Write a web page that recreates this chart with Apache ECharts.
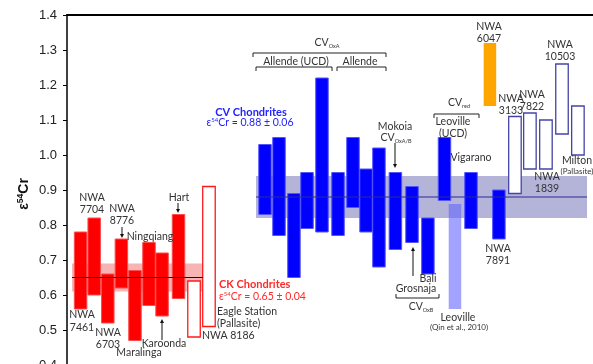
<!DOCTYPE html>
<html><head><meta charset="utf-8">
<script src="https://cdn.jsdelivr.net/npm/echarts@6/dist/echarts.min.js"></script>
<style>html,body{margin:0;padding:0;background:#fff}#c{width:593px;height:364px}</style>
</head><body><div id="c"></div>
<script>
// ---- data ----
const yTicks = [0.4,0.5,0.6,0.7,0.8,0.9,1.0,1.1,1.2,1.3,1.4];
// CK chondrites (filled red)
const ckNames = ['NWA 7461','NWA 7704','NWA 6703','NWA 8776','Maralinga','Ningqiang','Karoonda','Hart'];
const ckPos   = [1, 2, 3, 4, 5, 6.03, 6.99, 8.2];
const ckLow   = [0.56,0.60,0.52,0.62,0.47,0.57,0.54,0.59];
const ckHigh  = [0.78,0.82,0.66,0.76,0.67,0.75,0.72,0.83];
// red outlined (NWA 8186, Eagle Station pallasite)
const redOpenNames = ['NWA 8186','Eagle Station'];
const redOpenPos   = [9.34, 10.44];
const redOpenLow   = [0.48, 0.51];
const redOpenHigh  = [0.64, 0.91];
// CV chondrites (filled blue)
const cvNames = ['Allende UCD 1','Allende UCD 2','Allende UCD 3','Allende UCD 4','Allende UCD 5',
                 'Allende 1','Allende 2','Allende 3','Allende 4','Mokoia','Grosnaja','Bali',
                 'Leoville (UCD)','Vigarano','NWA 7891'];
const cvPos   = [14.56,15.59,16.69,17.65,18.75,19.93,21.03,21.99,22.94,24.15,25.37,26.54,27.76,29.71,31.76];
const cvLow   = [0.83,0.77,0.65,0.79,0.78,0.77,0.85,0.78,0.68,0.73,0.75,0.66,0.87,0.79,0.76];
const cvHigh  = [1.03,1.05,0.89,0.95,1.22,0.95,1.05,0.96,1.02,0.95,0.91,0.82,1.05,0.95,0.90];
// Leoville (Qin et al., 2010)
const qinPos = [28.53], qinLow = [0.56], qinHigh = [0.86];
// NWA 6047 (orange)
const orPos = [31.10], orLow = [1.14], orHigh = [1.32];
// blue outlined
const blueOpenNames = ['NWA 3133','NWA 7822','NWA 1839','NWA 10503','Milton'];
const blueOpenPos   = [32.94, 34.04, 35.22, 36.40, 37.57];
const blueOpenLow   = [0.89, 0.96, 0.96, 1.06, 1.00];
const blueOpenHigh  = [1.11, 1.12, 1.10, 1.26, 1.14];
// group means
const ckMean = 0.65, ckSd = 0.04, ckSpan = [0.37, 10.0];
const cvMean = 0.88, cvSd = 0.06, cvSpan = [13.9, 38.24];

const BW = 0.92;
const zip = (p,l,h) => p.map((v,i)=>[v,l[i],h[i]]);

function barSeries(data, style, z){
  return {type:'custom', z:z||3, data:data, silent:true,
    renderItem:(params, api)=>{
      const x=api.value(0), lo=api.value(1), hi=api.value(2);
      const a=api.coord([x-BW/2,hi]), b=api.coord([x+BW/2,lo]);
      return {type:'rect', shape:{x:a[0],y:a[1],width:b[0]-a[0],height:b[1]-a[1]}, style:style};
    }};
}
function bandSeries(span, mean, sd, fill){
  return {type:'custom', z:1, silent:true, data:[[span[0],span[1],mean,sd]],
    renderItem:(params, api)=>{
      const a=api.coord([api.value(0), api.value(2)+api.value(3)]);
      const b=api.coord([api.value(1), api.value(2)-api.value(3)]);
      return {type:'rect', shape:{x:a[0],y:a[1],width:b[0]-a[0],height:b[1]-a[1]}, style:{fill:fill}};
    }};
}
function lineSeries(span, mean, color){
  return {type:'custom', z:5, silent:true, data:[[span[0],span[1],mean]],
    renderItem:(params, api)=>{
      const a=api.coord([api.value(0), api.value(2)]);
      const b=api.coord([api.value(1), api.value(2)]);
      return {type:'line', shape:{x1:a[0],y1:a[1],x2:b[0],y2:b[1]}, style:{stroke:color, lineWidth:1.2}};
    }};
}

// ---- annotations (graphic) ----
const FONT = 'Lato, "Open Sans", sans-serif';
const TC = '#333';
const G = [];
function txt(x,y,text,o){
  o=o||{};
  const align=o.align||'center';
  G.push({type:'text', x:x, y:y, z:100, silent:true, style:{
    text:text, font:(o.weight||'normal')+' '+(o.size||10.5)+'px '+FONT, fill:o.color||TC,
    align:align, textAlign:align, verticalAlign:'middle', textVerticalAlign:'middle',
    lineHeight:o.lh||12, rich:o.rich}});
}
function sub(x,y,main,subt,o){
  o=o||{};
  const col=o.color||TC;
  G.push({type:'text', x:x, y:y, z:100, silent:true, style:{
    text:'{m|'+main+'}{s|'+subt+'}', align:'center', textAlign:'center', verticalAlign:'middle', textVerticalAlign:'middle',
    rich:{m:{fontSize:10.5, fontFamily:FONT, fill:col, color:col, lineHeight:13},
          s:{fontSize:5.5, fontFamily:FONT, fill:col, color:col, verticalAlign:'bottom', lineHeight:13}}}});
}
function arrow(x,y1,y2){
  const dir = y2>y1?1:-1;
  G.push({type:'line', z:100, silent:true, shape:{x1:x,y1:y1,x2:x,y2:y2-dir*3}, style:{stroke:'#111', lineWidth:1}});
  G.push({type:'polygon', z:100, silent:true, shape:{points:[[x-2,y2-dir*4],[x+2,y2-dir*4],[x,y2]]}, style:{fill:'#111'}});
}
function bracket(x1,x2,y,dy){
  G.push({type:'polyline', z:100, silent:true, shape:{points:[[x1,y+dy],[x1,y],[x2,y],[x2,y+dy]]}, style:{stroke:'#222', lineWidth:1, fill:null}});
}

// CK labels
txt(82,321.5,'NWA\n7461',{lh:13});
txt(92,204,'NWA\n7704');
txt(122,215,'NWA\n8776');
arrow(122,227,238);
txt(150,237,'Ningqiang');
txt(108,339,'NWA\n6703');
txt(139,353,'Maralinga');
txt(164,344,'Karoonda');
arrow(162,340,319);
txt(179,198,'Hart');
arrow(178,203,213);
txt(202,336,'NWA 8186',{align:'left'});
txt(217,317.5,'Eagle Station\n(Pallasite)',{align:'left', lh:11.5});
txt(219,284,'CK Chondrites',{align:'left', weight:'bold', size:11, color:'#ff2a2a'});
G.push({type:'text', x:219, y:297, z:100, silent:true, style:{
  text:'{e|ε}{s|54}{e|Cr = 0.65 ± 0.04}', align:'left', textAlign:'left', verticalAlign:'middle', textVerticalAlign:'middle',
  rich:{e:{fontSize:10.5, fontFamily:FONT, fill:'#ff2a2a', color:'#ff2a2a', lineHeight:12},
        s:{fontSize:6, fontFamily:FONT, fill:'#ff2a2a', color:'#ff2a2a', verticalAlign:'top', lineHeight:12}}}});
// CV labels
txt(251,112,'CV Chondrites',{weight:'bold', size:11, color:'#2323ff'});
G.push({type:'text', x:250, y:123, z:100, silent:true, style:{
  text:'{e|ε}{s|54}{e|Cr = 0.88 ± 0.06}', align:'center', textAlign:'center', verticalAlign:'middle', textVerticalAlign:'middle',
  rich:{e:{fontSize:10.5, fontFamily:FONT, fill:'#2323ff', color:'#2323ff', lineHeight:12},
        s:{fontSize:6, fontFamily:FONT, fill:'#2323ff', color:'#2323ff', verticalAlign:'top', lineHeight:12}}}});
sub(327,43,'CV','OxA');
bracket(253,386,53,4);
txt(296,62,'Allende (UCD)');
bracket(256,332,67,4);
txt(360,62,'Allende');
bracket(337,386,67,4);
txt(395,127,'Mokoia');
sub(396,138,'CV','OxA/B');
arrow(395,143,168);
sub(459,103,'CV','red');
bracket(434,479,114,4);
txt(453,127.5,'Leoville\n(UCD)',{lh:11.5});
txt(471,158,'Vigarano');
txt(489,32.5,'NWA\n6047',{lh:11.5});
txt(511,105,'NWA\n3133');
txt(532,101,'NWA\n7822');
txt(560,51,'NWA\n10503');
txt(547,182.5,'NWA\n1839',{lh:11.5});
txt(577,161,'Milton');
txt(577,171,'(Pallasite)',{size:8});
txt(498,254.5,'NWA\n7891',{lh:11.5});
txt(428,279,'Bali');
txt(416,289,'Grosnaja');
arrow(413,276,247);
bracket(396,439,298,-4);
sub(421,307,'CV','OxB');
txt(458,318,'Leoville');
txt(459,327,'(Qin et al., 2010)',{size:8});
// y axis name
G.push({type:'text', x:24, y:194, rotation:Math.PI/2, z:100, silent:true, style:{
  text:'{a|ε}{s|54}{a|Cr}', align:'center', textAlign:'center', verticalAlign:'middle', textVerticalAlign:'middle',
  rich:{a:{fontSize:14, fontWeight:'bold', fontFamily:'"Liberation Sans", Arial, sans-serif', fill:'#111', color:'#111', lineHeight:15},
        s:{fontSize:8.5, fontWeight:'bold', fontFamily:'"Liberation Sans", Arial, sans-serif', fill:'#111', color:'#111', verticalAlign:'top', lineHeight:15}}}});

const chart = echarts.init(document.getElementById('c'), null, {renderer:'canvas'});
chart.setOption({
  animation:false,
  backgroundColor:'#fff',
  grid:{left:67, right:0, top:15, bottom:-1, containLabel:false, outerBoundsMode:'none'},
  xAxis:{type:'value', min:0, max:38.68, position:'top',
    axisLine:{show:true, onZero:false, lineStyle:{color:'#000', width:2}},
    axisTick:{show:false}, axisLabel:{show:false}, splitLine:{show:false}},
  yAxis:{type:'value', min:yTicks[0], max:yTicks[yTicks.length-1], interval:0.1,
    axisLine:{show:true, lineStyle:{color:'#000', width:1.5}},
    axisTick:{show:true, inside:false, length:4, lineStyle:{color:'#000'}},
    axisLabel:{margin:10, fontSize:13, color:'#222', fontFamily:'"Liberation Sans", Arial, sans-serif',
      formatter:v=>v.toFixed(1)},
    splitLine:{show:false}},
  series:[
    bandSeries(ckSpan, ckMean, ckSd, '#f6b4b4'),
    bandSeries(cvSpan, cvMean, cvSd, '#b4b4d8'),
    barSeries(zip(ckPos,ckLow,ckHigh), {fill:'#ff0000', stroke:'#ff4d4d', lineWidth:1}),
    barSeries(zip(redOpenPos,redOpenLow,redOpenHigh), {fill:'#fff', stroke:'#ff1a1a', lineWidth:1.3}),
    barSeries(zip(cvPos,cvLow,cvHigh), {fill:'#0000ff', stroke:'#5555ff', lineWidth:1}),
    barSeries(zip(qinPos,qinLow,qinHigh), {fill:'rgba(100,100,255,0.6)'}),
    barSeries(zip(orPos,orLow,orHigh), {fill:'#ffa500'}),
    barSeries(zip(blueOpenPos,blueOpenLow,blueOpenHigh), {fill:'#fff', stroke:'#4444a8', lineWidth:1.3}),
    lineSeries(ckSpan, ckMean, '#111'),
    lineSeries(cvSpan, cvMean, '#2a2a9a')
  ],
  graphic:G
});
</script></body></html>
